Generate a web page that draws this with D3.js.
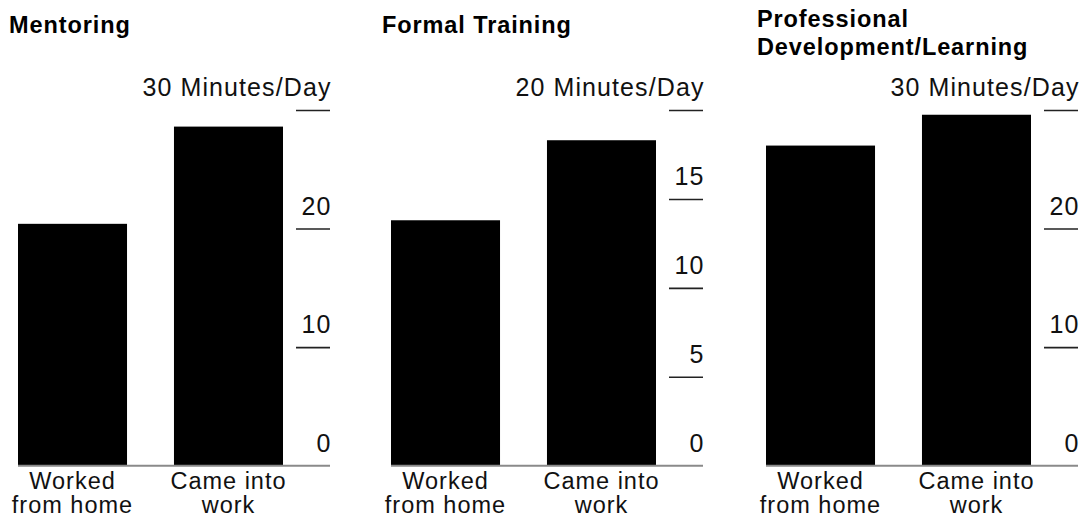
<!DOCTYPE html>
<html>
<head>
<meta charset="UTF-8">
<script src="https://d3js.org/d3.v7.min.js"></script>
<style>
  body { margin: 0; background: #fff; }
  svg { font-family: "Liberation Sans", Arial, sans-serif; }
</style>
</head>
<body>
<svg width="1086" height="515"></svg>
<script>
// data
const categories = ["Worked from home", "Came into work"];
const titles = [["Mentoring"], ["Formal Training"], ["Professional", "Development/Learning"]];
const mentoring = [20.4, 28.6];
const formalTraining = [13.8, 18.3];
const profDevelopment = [27.0, 29.6];
const maxValues = [30, 20, 30];
const tickValues = [[0, 10, 20, 30], [0, 5, 10, 15, 20], [0, 10, 20, 30]];
const unit = "Minutes/Day";

const series = [mentoring, formalTraining, profDevelopment];
const offsets = [0, 373, 748];

const svg = d3.select("svg");
const baseY = 465.7, topY = 110;
const axisX = 330, tickLen = 34;

series.forEach((vals, i) => {
    const g = svg.append("g").attr("transform", `translate(${offsets[i]},0)`);

    // title (one or two lines)
    g.append("text")
        .attr("x", 9).attr("y", 26.5)
        .attr("font-size", 23.5).attr("font-weight", "bold")
        .attr("letter-spacing", 0.9)
        .attr("fill", "#000")
        .selectAll("tspan").data(titles[i]).enter().append("tspan")
        .attr("x", 9).attr("dy", (d, j) => j ? 28.5 : 0)
        .text(d => d);
    if (titles[i].length === 1) g.select("text").attr("y", 33);

    const x = d3.scaleBand()
        .domain(categories)
        .range([18, 283])
        .paddingInner(0.301)
        .paddingOuter(0);

    const y = d3.scaleLinear()
        .domain([0, maxValues[i]])
        .range([baseY, topY]);

    // bars
    g.selectAll(".bar")
        .data(categories.map((c, j) => ({ c: c, v: vals[j] })))
        .enter().append("rect")
        .attr("class", "bar")
        .attr("x", d => x(d.c))
        .attr("y", d => y(d.v))
        .attr("width", x.bandwidth())
        .attr("height", d => y(0) - y(d.v))
        .attr("fill", "#000");

    // value axis on the right
    const ax = g.append("g")
        .attr("transform", `translate(${axisX},0)`)
        .call(d3.axisLeft(y).tickValues(tickValues[i]).tickSize(tickLen)
            .tickFormat(d => d === maxValues[i] ? `${d} ${unit}` : d));
    ax.select(".domain").remove();
    ax.selectAll(".tick line").attr("stroke", "#222").attr("stroke-width", 1.6)
        .filter(d => d === 0).remove();
    ax.selectAll(".tick text")
        .attr("x", 1.5).attr("dy", -14.5)
        .attr("text-anchor", "end")
        .attr("font-size", 25)
        .attr("letter-spacing", 1.1)
        .attr("fill", "#111");

    // baseline
    g.append("line")
        .attr("x1", 18).attr("x2", axisX)
        .attr("y1", baseY).attr("y2", baseY)
        .attr("stroke", "#8a8a8a").attr("stroke-width", 2);

    // category labels
    g.selectAll(".cat")
        .data(categories)
        .enter().append("text")
        .attr("class", "cat")
        .attr("text-anchor", "middle")
        .attr("font-size", 23.5)
        .attr("letter-spacing", 1)
        .attr("fill", "#111")
        .each(function(c) {
            const words = c === "Worked from home" ? ["Worked", "from home"] : ["Came into", "work"];
            d3.select(this).selectAll("tspan").data(words).enter().append("tspan")
                .attr("x", x(c) + x.bandwidth() / 2)
                .attr("y", (d, j) => 488.5 + j * 24)
                .text(d => d);
        });
});
</script>
</body>
</html>
